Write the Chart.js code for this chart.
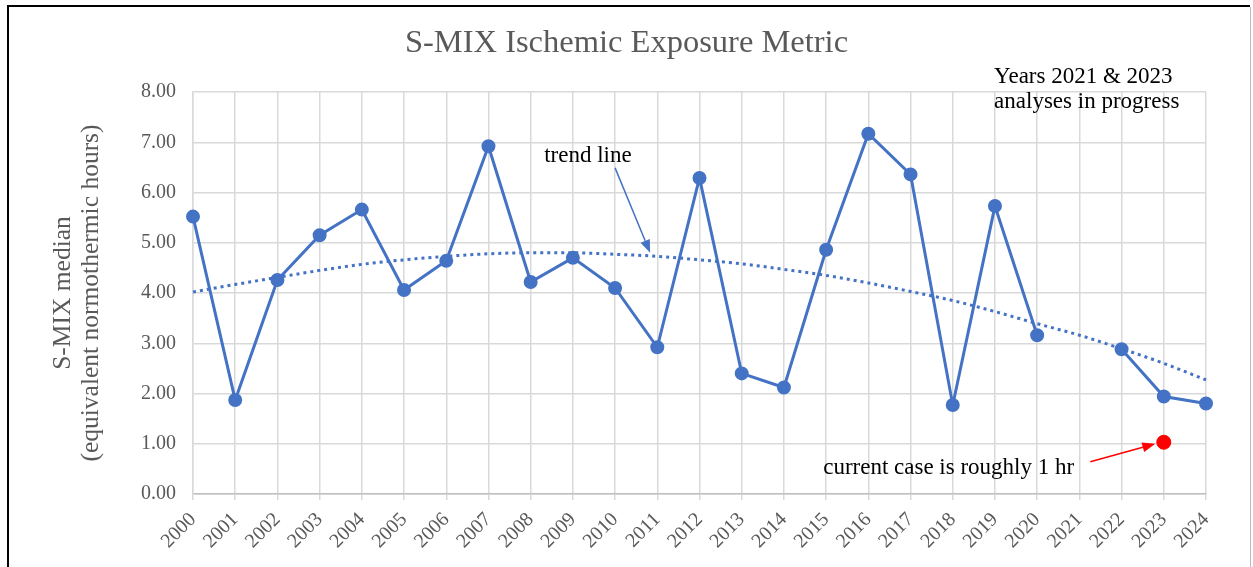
<!DOCTYPE html>
<html>
<head>
<meta charset="utf-8">
<script src="https://cdn.jsdelivr.net/npm/chart.js@4"></script>
<style>
  html, body { margin: 0; padding: 0; background: #fff; }
  #wrap { width: 1253px; height: 567px; }
</style>
</head>
<body>
<div id="wrap"><canvas id="chart" width="1253" height="567"></canvas></div>
<script>
// years on the x axis
const years = ['2000','2001','2002','2003','2004','2005','2006','2007','2008','2009','2010','2011','2012',
  '2013','2014','2015','2016','2017','2018','2019','2020','2021','2022','2023','2024'];

// S-MIX median per year (2021 missing)
const smix = [5.52, 1.87, 4.26, 5.15, 5.66, 4.06, 4.64, 6.92, 4.22, 4.70, 4.10, 2.92, 6.29,
  2.40, 2.12, 4.86, 7.17, 6.36, 1.77, 5.73, 3.16, null, 2.88, 1.94, 1.80];

// dotted trend line
const trend = [4.02, 4.17, 4.31, 4.45, 4.57, 4.66, 4.73, 4.78, 4.80, 4.80, 4.77, 4.73, 4.66,
  4.58, 4.47, 4.35, 4.20, 4.03, 3.85, 3.63, 3.39, 3.16, 2.89, 2.60, 2.27];

// current case (red dot)
const currentCase = [null, null, null, null, null, null, null, null, null, null, null, null, null,
  null, null, null, null, null, null, null, null, null, null, 1.03, null];

const yTicks = [0, 1, 2, 3, 4, 5, 6, 7, 8];

const SERIF = '"Liberation Serif", "Times New Roman", serif';
const GREY = '#595959';
const BLUE = '#4472C4';

// notes placed in data units (x = category index, y = value)
const notes = {
  trendText: { x: 8.32, y: 6.61, text: 'trend line' },
  trendArrow: { from: [10.0, 6.49], to: [10.83, 4.80], color: BLUE },
  yearsText: [{ x: 18.98, y: 8.185, text: 'Years 2021 & 2023' },
              { x: 18.98, y: 7.676, text: 'analyses in progress' }],
  caseText: { x: 14.93, y: 0.40, text: 'current case is roughly 1 hr' },
  caseArrow: { from: [21.26, 0.64], to: [22.8, 1.0], color: '#FF0000' }
};

function arrow(ctx, x1, y1, x2, y2, color) {
  const ang = Math.atan2(y2 - y1, x2 - x1);
  const len = 13, wid = 5;
  ctx.save();
  ctx.strokeStyle = color;
  ctx.fillStyle = color;
  ctx.lineWidth = 1.5;
  ctx.beginPath();
  ctx.moveTo(x1, y1);
  ctx.lineTo(x2 - Math.cos(ang) * len, y2 - Math.sin(ang) * len);
  ctx.stroke();
  ctx.beginPath();
  ctx.moveTo(x2, y2);
  ctx.lineTo(x2 - Math.cos(ang) * len - Math.sin(ang) * wid, y2 - Math.sin(ang) * len + Math.cos(ang) * wid);
  ctx.lineTo(x2 - Math.cos(ang) * len + Math.sin(ang) * wid, y2 - Math.sin(ang) * len - Math.cos(ang) * wid);
  ctx.closePath();
  ctx.fill();
  ctx.restore();
}

const notesPlugin = {
  id: 'notes',
  beforeDraw(chart) {
    const ctx = chart.ctx;
    ctx.save();
    ctx.fillStyle = '#fff';
    ctx.fillRect(0, 0, chart.width, chart.height);
    // frame
    ctx.strokeStyle = '#000';
    ctx.lineWidth = 2;
    ctx.beginPath();
    ctx.moveTo(8, 567);
    ctx.lineTo(8, 6);
    ctx.lineTo(1250, 6);
    ctx.stroke();
    ctx.strokeStyle = '#bbbbbb';
    ctx.lineWidth = 1;
    ctx.beginPath();
    ctx.moveTo(1250.5, 7);
    ctx.lineTo(1250.5, 567);
    ctx.stroke();
    ctx.restore();
  },
  afterDatasetsDraw(chart) {
    const ctx = chart.ctx;
    const xs = chart.scales.x, ys = chart.scales.y;
    const px = v => xs.getPixelForValue(v);
    const py = v => ys.getPixelForValue(v);
    ctx.save();
    ctx.fillStyle = '#000';
    ctx.font = '23px ' + SERIF;
    ctx.textBaseline = 'alphabetic';
    ctx.textAlign = 'left';
    const t = notes.trendText;
    ctx.fillText(t.text, px(t.x), py(t.y));
    notes.yearsText.forEach(n => ctx.fillText(n.text, px(n.x), py(n.y)));
    const c = notes.caseText;
    ctx.fillText(c.text, px(c.x), py(c.y));
    ctx.restore();
    [notes.trendArrow, notes.caseArrow].forEach(a => {
      arrow(ctx, px(a.from[0]), py(a.from[1]), px(a.to[0]), py(a.to[1]), a.color);
    });
  }
};

new Chart(document.getElementById('chart'), {
  type: 'line',
  data: {
    labels: years,
    datasets: [
      {
        label: 'Current case',
        data: currentCase,
        showLine: false,
        pointRadius: 7,
        pointBackgroundColor: '#FF0000',
        pointBorderColor: '#FF0000',
        borderColor: '#FF0000'
      },
      {
        label: 'S-MIX median',
        data: smix,
        borderColor: BLUE,
        backgroundColor: BLUE,
        borderWidth: 3,
        pointRadius: 5.5,
        pointBackgroundColor: BLUE,
        pointBorderColor: BLUE,
        spanGaps: false,
        tension: 0
      },
      {
        label: 'Trend',
        data: trend,
        borderColor: BLUE,
        borderWidth: 3,
        borderDash: [3, 4],
        borderCapStyle: 'butt',
        pointRadius: 0,
        cubicInterpolationMode: 'monotone'
      }
    ]
  },
  options: {
    responsive: false,
    devicePixelRatio: 1,
    animation: false,
    layout: { padding: { left: 0, right: 0, top: 0, bottom: 0 } },
    plugins: {
      legend: { display: false },
      tooltip: { enabled: false },
      title: {
        display: true,
        text: 'S-MIX Ischemic Exposure Metric',
        color: GREY,
        font: { family: SERIF, size: 32.5, weight: 'normal', lineHeight: 1.2 },
        padding: { top: 24, bottom: 29 }
      }
    },
    scales: {
      x: {
        type: 'category',
        offset: false,
        grid: { color: '#d9d9d9', lineWidth: 1.5, offset: false, drawTicks: true, tickLength: 6 },
        border: { color: '#bfbfbf', width: 1.5 },
        ticks: {
          color: GREY,
          font: { family: SERIF, size: 20 },
          minRotation: 45,
          maxRotation: 45,
          autoSkip: false,
          padding: 8
        },
        afterFit(scale) { scale.height = 73; }
      },
      y: {
        min: 0,
        max: 8,
        afterBuildTicks(scale) { scale.ticks = yTicks.map(v => ({ value: v })); },
        grid: { color: '#d9d9d9', lineWidth: 1.5, drawTicks: false },
        border: { color: '#d9d9d9', width: 1.5 },
        ticks: {
          color: GREY,
          font: { family: SERIF, size: 20 },
          padding: 17,
          callback: v => Number(v).toFixed(2)
        },
        title: {
          display: true,
          text: ['S-MIX median', '(equivalent normothermic hours)'],
          color: GREY,
          font: { family: SERIF, size: 25.5, lineHeight: 1.1 },
          padding: { top: 49, bottom: 0 }
        },
        afterFit(scale) { scale.width = 193; }
      },
      // empty right-hand box so the plot ends where the reference does
      spacer: {
        type: 'linear',
        position: 'right',
        display: true,
        grid: { display: false, drawOnChartArea: false },
        border: { display: false },
        ticks: { display: false },
        afterFit(scale) { scale.width = 47; }
      }
    }
  },
  plugins: [notesPlugin]
});
</script>
</body>
</html>
